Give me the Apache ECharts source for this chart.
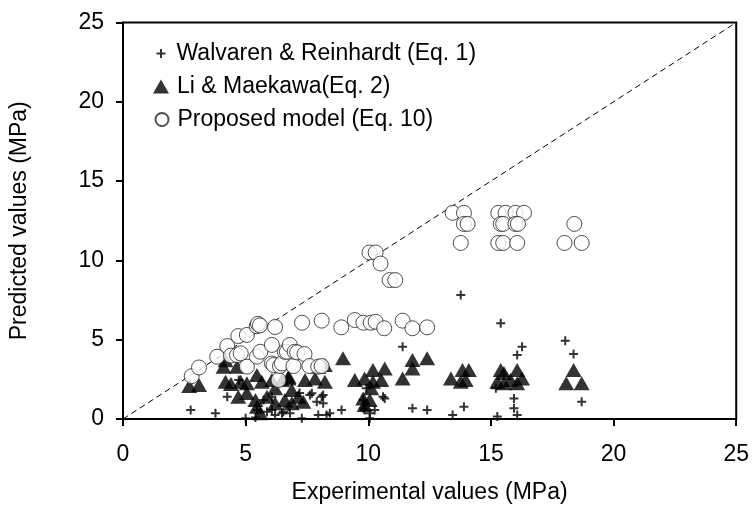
<!DOCTYPE html>
<html>
<head>
<meta charset="utf-8">
<title>Predicted vs experimental values</title>
<script src="https://cdn.jsdelivr.net/npm/echarts@6/dist/echarts.min.js"></script>
<style>
  html, body { margin: 0; padding: 0; background: #fff; }
  #chart { width: 752px; height: 515px; }
</style>
</head>
<body>
<div id="chart"></div>
<script>
// Axis ticks (MPa)
const axisTicks = [0, 5, 10, 15, 20, 25];

// Series names
const seriesNames = [
  'Walvaren & Reinhardt (Eq. 1)',
  'Li & Maekawa(Eq. 2)',
  'Proposed model (Eq. 10)'
];

// [experimental, predicted] pairs, MPa
const walravenPoints = [
  [2.76, 0.57], [3.77, 0.36], [4.25, 1.4], [4.72, 2.46], [5.0, 0.05], [5.4, 0.1],
  [5.46, 0.57], [5.73, 1.2], [5.87, 0.46], [6.07, 0.57], [6.07, 1.4], [6.2, 0.25],
  [6.48, 0.36], [6.54, 0.46], [6.75, 0.78], [6.81, 0.36], [7.2, 1.64], [7.29, 0.05],
  [7.62, 1.51], [7.7, 1.62], [7.9, 1.09], [7.96, 0.25], [8.1, 1.4], [8.16, 1.51],
  [8.16, 0.99], [8.3, 0.25], [8.43, 0.36], [8.91, 0.57], [9.79, 1.2], [9.8, 0.67],
  [9.85, 0.57], [9.92, 1.94], [10.06, 0.36], [10.06, 0.05], [10.26, 0.57], [10.6, 1.4],
  [10.67, 1.3], [11.4, 4.56], [11.8, 0.67], [12.4, 0.57], [13.44, 0.25], [13.77, 7.82],
  [13.9, 0.78], [15.2, 1.94], [15.26, 0.15], [15.4, 6.03], [15.94, 1.3], [15.94, 0.67],
  [16.07, 0.25], [16.07, 4.03], [16.27, 4.56], [18.03, 4.94], [18.37, 4.1], [18.7, 1.09]
];

const liMaekawaPoints = [
  [2.7, 2.08], [3.1, 2.15], [4.1, 3.3], [4.18, 3.7], [4.18, 2.35], [4.4, 2.2],
  [4.65, 3.3], [4.7, 1.4], [4.8, 2.35], [5.05, 2.25], [5.05, 1.64], [5.4, 1.2],
  [5.46, 2.77], [5.46, 0.78], [5.6, 0.36], [5.66, 2.35], [5.87, 1.4], [6.07, 2.46],
  [6.2, 1.94], [6.2, 0.99], [6.48, 2.46], [6.6, 1.2], [6.75, 2.67], [6.75, 2.56],
  [6.88, 1.83], [6.88, 0.99], [7.15, 1.4], [7.35, 1.09], [7.42, 2.46], [7.83, 2.56],
  [7.96, 3.3], [8.23, 3.4], [8.23, 2.35], [8.97, 3.83], [9.45, 2.46], [9.79, 1.3],
  [9.85, 2.56], [9.85, 0.88], [10.06, 1.2], [10.12, 1.94], [10.19, 3.09], [10.19, 2.35],
  [10.53, 2.46], [10.67, 3.19], [11.4, 2.56], [11.8, 3.72], [11.8, 3.19], [12.4, 3.83],
  [13.37, 2.56], [13.77, 2.35], [13.84, 3.09], [13.97, 2.46], [14.1, 3.09], [15.26, 2.35],
  [15.4, 3.09], [15.53, 2.25], [15.53, 2.9], [15.8, 2.46], [16.07, 3.09], [16.07, 2.25],
  [16.27, 2.56], [18.07, 2.25], [18.37, 3.09], [18.7, 2.25]
];

const proposedPoints = [
  [2.8, 2.7], [3.1, 3.25], [3.84, 3.93], [4.25, 4.6], [4.4, 4.0], [4.65, 4.03],
  [4.7, 5.23], [4.8, 4.14], [5.05, 5.3], [5.05, 3.3], [5.46, 3.93], [5.45, 5.85],
  [5.5, 6.0], [5.58, 5.9], [5.6, 4.24], [6.07, 4.67], [6.07, 3.5], [6.14, 3.4],
  [6.2, 5.8], [6.34, 2.46], [6.4, 3.34], [6.48, 3.5], [6.6, 4.24], [6.68, 4.24],
  [6.8, 4.67], [6.95, 3.34], [7.0, 4.24], [7.1, 4.2], [7.4, 4.1], [7.6, 3.34],
  [7.96, 3.3], [8.1, 3.34], [7.3, 6.07], [8.1, 6.2], [8.9, 5.78], [9.45, 6.24],
  [9.8, 6.07], [10.1, 6.07], [10.3, 6.13], [10.65, 5.72], [11.4, 6.2], [11.8, 5.72],
  [12.4, 5.78], [10.05, 10.5], [10.3, 10.5], [10.5, 9.8], [10.87, 8.76], [11.1, 8.76],
  [13.44, 13.0], [13.9, 13.0], [13.9, 12.3], [14.05, 12.3], [13.77, 11.1],
  [15.3, 13.0], [15.6, 13.0], [16.0, 13.0], [16.35, 13.0],
  [15.4, 12.3], [15.5, 12.3], [16.0, 12.3], [16.1, 12.3],
  [15.3, 11.1], [15.5, 11.1], [16.07, 11.1],
  [18.4, 12.3], [18.0, 11.1], [18.7, 11.1]
];

// Line of equality (predicted = experimental)
const equalityLine = [[0, 0], [25, 25]];

const FONT = '"Liberation Sans", Arial, sans-serif';
const TEXT_SIZE = 23;
const crossPath = 'path://M3.5,0H5.5V3.5H9V5.5H5.5V9H3.5V5.5H0V3.5H3.5Z';

const chart = echarts.init(document.getElementById('chart'), null, { renderer: 'canvas' });

function axisCommon(name, nameGap) {
  return {
    type: 'value',
    min: axisTicks[0],
    max: axisTicks[axisTicks.length - 1],
    interval: axisTicks[1] - axisTicks[0],
    name: name,
    nameLocation: 'middle',
    nameGap: nameGap,
    nameTextStyle: { fontFamily: FONT, fontSize: TEXT_SIZE, color: '#000' },
    axisLine: { show: true, onZero: false, lineStyle: { color: '#000', width: 2 } },
    axisTick: { show: true, inside: false, length: 7, lineStyle: { color: '#000', width: 2 } },
    axisLabel: { fontFamily: FONT, fontSize: TEXT_SIZE, color: '#000' },
    splitLine: { show: false }
  };
}

const xAxis = axisCommon('Experimental values (MPa)', 62);
xAxis.axisLabel.margin = 24;
const yAxis = axisCommon('Predicted values (MPa)', 92);
yAxis.axisLabel.margin = 19;

function legendFor(name, left, top, w, h, pad) {
  return {
    data: [name],
    left: left,
    top: top,
    orient: 'vertical',
    itemWidth: w,
    itemHeight: h,
    itemGap: 0,
    padding: 0,
    selectedMode: false,
    textStyle: { fontFamily: FONT, fontSize: TEXT_SIZE, color: '#000', padding: [0, 0, 0, pad] }
  };
}

chart.setOption({
  animation: false,
  backgroundColor: '#fff',
  grid: {
    left: 122, right: 13.5, top: 22.5, bottom: 96,
    containLabel: false,
    show: true, borderColor: '#000', borderWidth: 2, backgroundColor: 'transparent'
  },
  legend: [
    legendFor(seriesNames[0], 156.5, 42, 9, 9, 6),
    legendFor(seriesNames[1], 153, 75, 16, 14, 3),
    legendFor(seriesNames[2], 154.5, 108, 13, 13, 4)
  ],
  xAxis: xAxis,
  yAxis: yAxis,
  series: [
    {
      type: 'line',
      data: equalityLine,
      symbol: 'none',
      silent: true,
      lineStyle: { color: '#000', width: 1, type: [6, 4] },
      z: 1
    },
    {
      name: seriesNames[0],
      type: 'scatter',
      data: walravenPoints,
      symbol: crossPath,
      symbolSize: 9,
      itemStyle: { color: '#000' },
      emphasis: { disabled: true },
      z: 2
    },
    {
      name: seriesNames[1],
      type: 'scatter',
      data: liMaekawaPoints,
      symbol: 'triangle',
      symbolSize: [16, 14],
      itemStyle: { color: '#000' },
      emphasis: { disabled: true },
      z: 3
    },
    {
      name: seriesNames[2],
      type: 'scatter',
      data: proposedPoints,
      symbol: 'circle',
      symbolSize: 15,
      itemStyle: { color: '#fff', borderColor: '#222', borderWidth: 1 },
      emphasis: { disabled: true },
      z: 4
    }
  ]
});
</script>
</body>
</html>
